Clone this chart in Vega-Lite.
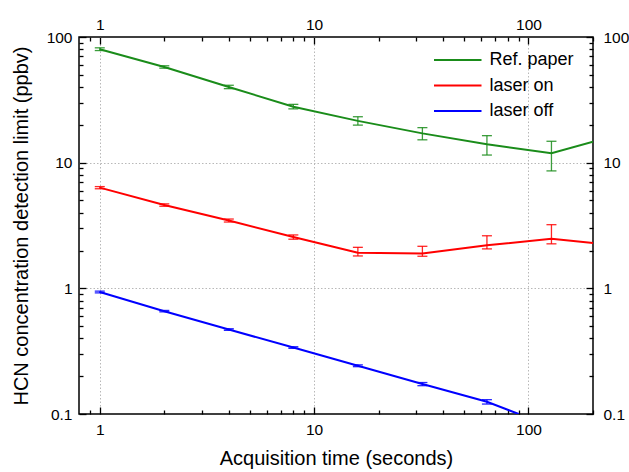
{
  "$schema": "https://vega.github.io/schema/vega-lite/v6.json",
  "autosize": {"type": "none"},
  "padding": {"left": 79, "top": 37, "right": 36, "bottom": 58},
  "width": 514,
  "height": 377,
  "background": "white",
  "config": {
    "font": "Liberation Sans",
    "view": {"stroke": "black", "strokeWidth": 1.5},
    "axis": {
      "domain": false,
      "labelFont": "Liberation Sans",
      "titleFont": "Liberation Sans",
      "labelFontSize": 15.5,
      "titleFontSize": 20,
      "titleFontWeight": "normal",
      "labelColor": "black",
      "titleColor": "black",
      "tickColor": "black",
      "tickWidth": 1.3,
      "gridColor": "#b8b8b8",
      "gridDash": [1.5, 2],
      "gridWidth": 1
    }
  },
  "data": {
    "values": [
      {"series": "Ref. paper", "t": 1, "v": 80, "lo": 78, "hi": 82},
      {"series": "Ref. paper", "t": 2, "v": 57.7, "lo": 56.5, "hi": 59},
      {"series": "Ref. paper", "t": 4, "v": 40, "lo": 38.8, "hi": 41.3},
      {"series": "Ref. paper", "t": 8, "v": 27.9, "lo": 26.8, "hi": 29.1},
      {"series": "Ref. paper", "t": 16, "v": 21.5, "lo": 19.9, "hi": 23.2},
      {"series": "Ref. paper", "t": 32, "v": 17.1, "lo": 15.2, "hi": 19.0},
      {"series": "Ref. paper", "t": 64, "v": 14.0, "lo": 11.5, "hi": 16.4},
      {"series": "Ref. paper", "t": 128, "v": 11.9, "lo": 8.6, "hi": 14.8},
      {"series": "Ref. paper", "t": 200, "v": 14.7, "lo": null, "hi": null},
      {"series": "laser on", "t": 1, "v": 6.33, "lo": 6.2, "hi": 6.45},
      {"series": "laser on", "t": 2, "v": 4.6, "lo": 4.5, "hi": 4.7},
      {"series": "laser on", "t": 4, "v": 3.46, "lo": 3.37, "hi": 3.56},
      {"series": "laser on", "t": 8, "v": 2.56, "lo": 2.46, "hi": 2.66},
      {"series": "laser on", "t": 16, "v": 1.92, "lo": 1.81, "hi": 2.12},
      {"series": "laser on", "t": 32, "v": 1.89, "lo": 1.8, "hi": 2.16},
      {"series": "laser on", "t": 64, "v": 2.2, "lo": 2.06, "hi": 2.62},
      {"series": "laser on", "t": 128, "v": 2.48, "lo": 2.26, "hi": 3.21},
      {"series": "laser on", "t": 200, "v": 2.29, "lo": null, "hi": null},
      {"series": "laser off", "t": 1, "v": 0.936, "lo": 0.92, "hi": 0.95},
      {"series": "laser off", "t": 2, "v": 0.658, "lo": 0.65, "hi": 0.667},
      {"series": "laser off", "t": 4, "v": 0.47, "lo": 0.463, "hi": 0.477},
      {"series": "laser off", "t": 8, "v": 0.338, "lo": 0.333, "hi": 0.343},
      {"series": "laser off", "t": 16, "v": 0.242, "lo": 0.238, "hi": 0.246},
      {"series": "laser off", "t": 32, "v": 0.173, "lo": 0.168, "hi": 0.178},
      {"series": "laser off", "t": 64, "v": 0.125, "lo": 0.12, "hi": 0.13},
      {"series": "laser off", "t": 90, "v": 0.1, "lo": null, "hi": null}
    ]
  },
  "resolve": {"axis": {"x": "independent", "y": "independent"}},
  "layer": [
    {
      "mark": {"type": "line", "strokeWidth": 2, "clip": true},
      "encoding": {
        "x": {
          "field": "t", "type": "quantitative",
          "scale": {"type": "log", "domain": [0.8, 200], "nice": false},
          "axis": {
            "orient": "bottom",
            "title": "Acquisition time (seconds)",
            "values": [0.9, 1, 2, 3, 4, 5, 6, 7, 8, 9, 10, 20, 30, 40, 50, 60, 70, 80, 90, 100, 200],
            "labelExpr": "indexof([1,10,100], datum.value) >= 0 ? format(datum.value, '~g') : ''",
            "tickSize": {"condition": {"test": "indexof([1,10,100], datum.value) >= 0", "value": -7}, "value": -4},
            "gridOpacity": {"condition": {"test": "indexof([1,10,100], datum.value) >= 0", "value": 1}, "value": 0},
            "grid": true,
            "labelPadding": 15,
            "titlePadding": 8,
            "labelFlush": false,
            "labelOverlap": false
          }
        },
        "y": {
          "field": "v", "type": "quantitative",
          "scale": {"type": "log", "domain": [0.1, 100], "nice": false},
          "axis": {
            "orient": "left",
            "title": "HCN concentration detection limit (ppbv)",
            "values": [0.1, 0.2, 0.3, 0.4, 0.5, 0.6, 0.7, 0.8, 0.9, 1, 2, 3, 4, 5, 6, 7, 8, 9, 10, 20, 30, 40, 50, 60, 70, 80, 90, 100],
            "labelExpr": "indexof([0.1,1,10,100], datum.value) >= 0 ? format(datum.value, '~g') : ''",
            "tickSize": {"condition": {"test": "indexof([0.1,1,10,100], datum.value) >= 0", "value": -7}, "value": -4},
            "gridOpacity": {"condition": {"test": "indexof([1,10], datum.value) >= 0", "value": 1}, "value": 0},
            "grid": true,
            "labelPadding": 14,
            "titlePadding": 15,
            "labelFlush": false,
            "labelOverlap": false
          }
        },
        "color": {
          "field": "series", "type": "nominal",
          "scale": {"domain": ["Ref. paper", "laser on", "laser off"], "range": ["#1a8c1a", "#ff0000", "#0000ff"]},
          "legend": {
            "title": null,
            "orient": "none",
            "legendX": 354,
            "legendY": 12.5,
            "padding": 0,
            "symbolType": "M-1,0H4",
            "symbolSize": 361,
            "symbolStrokeWidth": 2,
            "labelFontSize": 18,
            "labelFont": "Liberation Sans",
            "labelColor": "black",
            "labelOffset": 35.5,
            "rowPadding": 5.5
          }
        }
      }
    },
    {
      "transform": [{"filter": "datum.lo != null"}],
      "mark": {"type": "errorbar", "ticks": {"size": 10, "thickness": 1.3}, "thickness": 1.3, "opacity": 0.85},
      "encoding": {
        "x": {"field": "t", "type": "quantitative", "axis": null},
        "y": {"field": "lo", "type": "quantitative", "axis": null},
        "y2": {"field": "hi"},
        "color": {"field": "series", "type": "nominal", "legend": null}
      }
    },
    {
      "mark": {"type": "point", "opacity": 0},
      "encoding": {
        "x": {
          "field": "t", "type": "quantitative",
          "axis": {
            "orient": "top",
            "title": null,
            "values": [0.9, 1, 2, 3, 4, 5, 6, 7, 8, 9, 10, 20, 30, 40, 50, 60, 70, 80, 90, 100, 200],
            "labelExpr": "indexof([1,10,100], datum.value) >= 0 ? format(datum.value, '~g') : ''",
            "tickSize": {"condition": {"test": "indexof([1,10,100], datum.value) >= 0", "value": -7}, "value": -4},
            "grid": false,
            "labelPadding": 12,
            "labelFlush": false,
            "labelOverlap": false
          }
        },
        "y": {
          "field": "v", "type": "quantitative",
          "axis": {
            "orient": "right",
            "title": null,
            "values": [0.1, 0.2, 0.3, 0.4, 0.5, 0.6, 0.7, 0.8, 0.9, 1, 2, 3, 4, 5, 6, 7, 8, 9, 10, 20, 30, 40, 50, 60, 70, 80, 90, 100],
            "labelExpr": "indexof([0.1,1,10,100], datum.value) >= 0 ? format(datum.value, '~g') : ''",
            "tickSize": {"condition": {"test": "indexof([0.1,1,10,100], datum.value) >= 0", "value": -7}, "value": -4},
            "grid": false,
            "labelPadding": 17,
            "labelFlush": false,
            "labelOverlap": false
          }
        }
      }
    }
  ]
}
